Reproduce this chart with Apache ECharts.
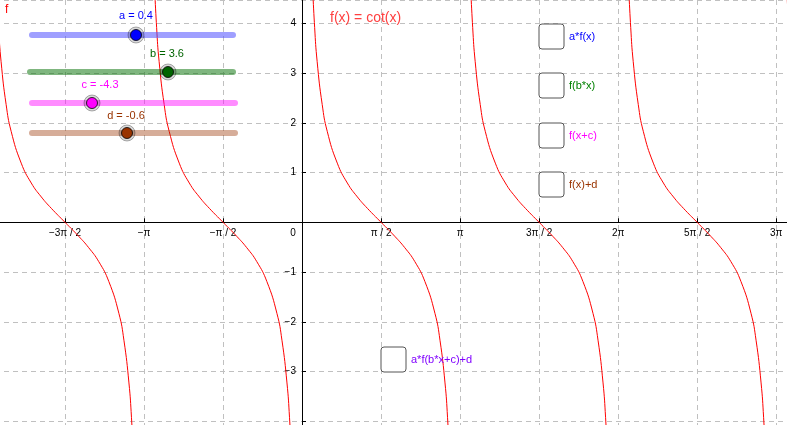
<!DOCTYPE html>
<html><head><meta charset="utf-8">
<script src="https://cdn.jsdelivr.net/npm/echarts@6/dist/echarts.min.js"></script>
<style>html,body{margin:0;padding:0;background:#fff}#c{width:787px;height:425px}</style>
</head><body><div id="c"></div>
<script>
// sample offsets within one branch (x - k*pi) and cot values
const branchOffsets = [0.2,0.25,0.3,0.4,0.5,0.7,0.9,1.1,1.3,1.5708,1.8416,2.0416,2.2416,2.4416,2.6416,2.7416,2.8416,2.8916,2.9416];
const branchValues  = [4.93,3.92,3.23,2.37,1.83,1.19,0.79,0.51,0.28,0,-0.28,-0.51,-0.79,-1.19,-1.83,-2.37,-3.23,-3.92,-4.93];
const branchStarts = [-2,-1,0,1,2,3]; // multiples of pi
const xTickLabels = {"-3":"−3π / 2","-2":"−π","-1":"−π / 2","0":"0","1":"π / 2","2":"π","3":"3π / 2","4":"2π","5":"5π / 2","6":"3π"};
const sliders = [
  {name:"a = 0.4", line:"rgba(80,80,255,0.55)", knob:"#0000ff", text:"#0000ff"},
  {name:"b = 3.6", line:"rgba(0,110,0,0.5)", knob:"#006400", text:"#006400"},
  {name:"c = -4.3", line:"rgba(255,0,255,0.45)", knob:"#ff00ff", text:"#ff00ff"},
  {name:"d = -0.6", line:"rgba(153,51,0,0.4)", knob:"#993300", text:"#993300"}
];
const checks = ["a*f(x)","f(b*x)","f(x+c)","f(x)+d","a*f(b*x+c)+d"];
const checkColors = ["#0000ff","#008000","#ff00ff","#993300","#8000ff"];

const PI = Math.PI;
const series = branchStarts.map(k => ({
  type:'line', smooth:true, showSymbol:false, silent:true, clip:true,
  lineStyle:{color:'#ff0000',width:1},
  data: branchOffsets.map((o,i)=>[k*PI+o, branchValues[i]])
}));

const g = [];
const sl = [[32,233,35,136,136,16],[30,233,72,168,167,54],[32,235,103,92,100,85],[32,235,133,127,126,116]];
sliders.forEach((s,i)=>{
  const [x1,x2,y,kx,tx,ty]=sl[i];
  g.push({type:'line',shape:{x1,y1:y,x2,y2:y},style:{stroke:s.line,lineWidth:6,lineCap:'round'},z:10});
  g.push({type:'circle',shape:{cx:kx,cy:y,r:8},style:{fill:'rgba(0,0,0,0.15)',stroke:'rgba(0,0,0,0.3)'},z:11});
  g.push({type:'circle',shape:{cx:kx,cy:y,r:5.5},style:{fill:s.knob,stroke:'#000',lineWidth:0.8},z:12});
  g.push({type:'text',x:tx,y:ty,style:{text:s.name,fill:s.text,font:'11px sans-serif',align:'center',verticalAlign:'middle'},z:12});
});
const cb = [[539,24],[539,73],[539,123],[539,172],[381,347]];
checks.forEach((t,i)=>{
  const [x,y]=cb[i];
  g.push({type:'rect',shape:{x,y,width:25,height:25,r:3},style:{fill:'#fff',stroke:'#555',lineWidth:1},z:10});
  g.push({type:'text',x:x+30,y:y+13,style:{text:t,fill:checkColors[i],font:'11px sans-serif',verticalAlign:'middle'},z:10});
});
g.push({type:'text',x:330,y:18,style:{text:'f(x) = cot(x)',fill:'#ff4040',font:'14px sans-serif',verticalAlign:'middle'},z:10});
g.push({type:'text',x:5,y:10,style:{text:'f',fill:'#ff0000',font:'12px sans-serif',verticalAlign:'middle'},z:10});
g.push({type:'text',x:293,y:233,style:{text:'0',fill:'#000',font:'10px sans-serif',align:'center',verticalAlign:'middle'},z:10});

const chart = echarts.init(document.getElementById('c'));
chart.setOption({
  animation:false,
  grid:{left:-14,right:0,top:0,bottom:-46,outerBoundsMode:'none',containLabel:false},
  xAxis:{type:'value',min:-2*PI,max:9.64,interval:PI/2,offset:-248.7,
    axisLine:{onZero:false,lineStyle:{color:'#000',width:1}},
    axisTick:{show:true,length:-4,lineStyle:{color:'#000'}},
    axisLabel:{color:'#000',fontSize:10,fontFamily:'sans-serif',margin:6,showMinLabel:false,
      formatter:v=>{const k=Math.round(v/(PI/2));return k===0?'':(xTickLabels[String(k)]||'');}},
    splitLine:{show:true,lineStyle:{color:'#c0c0c0',type:[5,4]}}},
  yAxis:{type:'value',min:-5,max:4.47,interval:1,offset:-316,
    axisLine:{onZero:false,lineStyle:{color:'#000',width:1}},
    axisTick:{show:true,length:-4,lineStyle:{color:'#000'}},
    axisLabel:{color:'#000',fontSize:10,fontFamily:'sans-serif',margin:6,showMaxLabel:false,
      formatter:v=>(Math.abs(v)<1e-9||v<-3.5)?'':(v<0?'−'+(-v):String(v))},
    splitLine:{show:true,lineStyle:{color:'#c0c0c0',type:[5,4]}}},
  series,
  graphic:g
});
</script></body></html>
